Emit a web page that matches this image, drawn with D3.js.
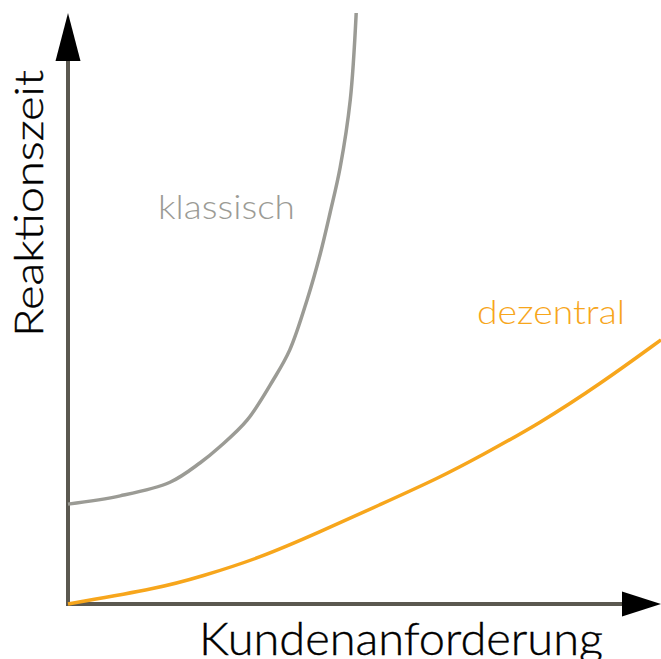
<!DOCTYPE html>
<html><head><meta charset="utf-8">
<script src="https://cdn.jsdelivr.net/npm/d3@7/dist/d3.min.js"></script>
<style>html,body{margin:0;padding:0;background:#fff;}svg{display:block;}</style>
</head><body>
<script>
// Data (relative units: x = Kundenanforderung 0..100, y = Reaktionszeit 0..100)
const klassischX = [0, 8.8, 17.2, 22.3, 25.6, 30.2, 34.6, 37.4, 40.3, 42.5, 44.2, 45.9, 47.6, 48.6];
const klassischY = [16.9, 18.3, 20.6, 23.9, 26.6, 31.1, 37.9, 43.0, 51.4, 59.1, 66.2, 73.9, 85.3, 100];
const dezentralX = [0, 15.5, 22.3, 32.4, 42.5, 52.6, 62.7, 69.5, 79.6, 89.7, 100];
const dezentralY = [0, 2.7, 4.6, 7.8, 12.2, 16.8, 21.4, 25.0, 30.6, 37.2, 44.7];
const labels = {x: "Kundenanforderung", y: "Reaktionszeit", s1: "klassisch", s2: "dezentral"};

const W = 661, H = 659;
const svg = d3.select("body").append("svg").attr("width", W).attr("height", H);
const x = d3.scaleLinear().domain([0, 100]).range([68, 661]);
const y = d3.scaleLinear().domain([0, 100]).range([604, 13]);

const axisColor = "#5b5850";
// axes lines
svg.append("line").attr("x1", x(0)).attr("y1", y(0)).attr("x2", x(0)).attr("y2", y(100) + 46)
  .attr("stroke", axisColor).attr("stroke-width", 4);
svg.append("line").attr("x1", x(0) - 2).attr("y1", y(0)).attr("x2", x(100) - 38).attr("y2", y(0))
  .attr("stroke", axisColor).attr("stroke-width", 4);
// arrowheads
svg.append("path").attr("d", `M${x(0)},${y(100)} L${x(0)+12.5},${y(100)+48} L${x(0)-12.5},${y(100)+48} Z`).attr("fill", "#000");
svg.append("path").attr("d", `M${x(100)},${y(0)} L${x(100)-39},${y(0)-12.5} L${x(100)-39},${y(0)+12.5} Z`).attr("fill", "#000");

const line = d3.line().x(d => x(d[0])).y(d => y(d[1])).curve(d3.curveCatmullRom.alpha(0.5));
const smooth = d3.line().x(d => x(d[0])).y(d => y(d[1])).curve(d3.curveBasis);
svg.append("path").datum(klassischX.map((v, i) => [v, klassischY[i]]))
  .attr("d", line).attr("fill", "none").attr("stroke", "#9b9b95").attr("stroke-width", 3.5);
svg.append("path").datum(dezentralX.map((v, i) => [v, dezentralY[i]]))
  .attr("d", smooth).attr("fill", "none").attr("stroke", "#f7a61c").attr("stroke-width", 3.5);

const font = "Lato, 'Noto Sans', sans-serif";
svg.append("text").attr("x", 199).attr("y", 655).attr("font-family", font).attr("font-size", 46).attr("font-weight", 300)
  .attr("fill", "#000").attr("stroke", "#000").attr("stroke-width", 0.4)
  .attr("textLength", 404).attr("lengthAdjust", "spacingAndGlyphs").text(labels.x);
svg.append("text").attr("transform", "translate(43,337) rotate(-90)").attr("font-family", font).attr("font-size", 40).attr("font-weight", 300)
  .attr("fill", "#000").attr("stroke", "#000").attr("stroke-width", 0.4)
  .attr("textLength", 267).attr("lengthAdjust", "spacingAndGlyphs").text(labels.y);
svg.append("text").attr("x", 158).attr("y", 219).attr("font-family", font).attr("font-size", 34).attr("font-weight", 300)
  .attr("fill", "#9b9b95").attr("textLength", 137).attr("lengthAdjust", "spacingAndGlyphs").text(labels.s1);
svg.append("text").attr("x", 477).attr("y", 324).attr("font-family", font).attr("font-size", 34).attr("font-weight", 300)
  .attr("fill", "#f7a61c").attr("textLength", 148).attr("lengthAdjust", "spacingAndGlyphs").text(labels.s2);
</script>
</body></html>
